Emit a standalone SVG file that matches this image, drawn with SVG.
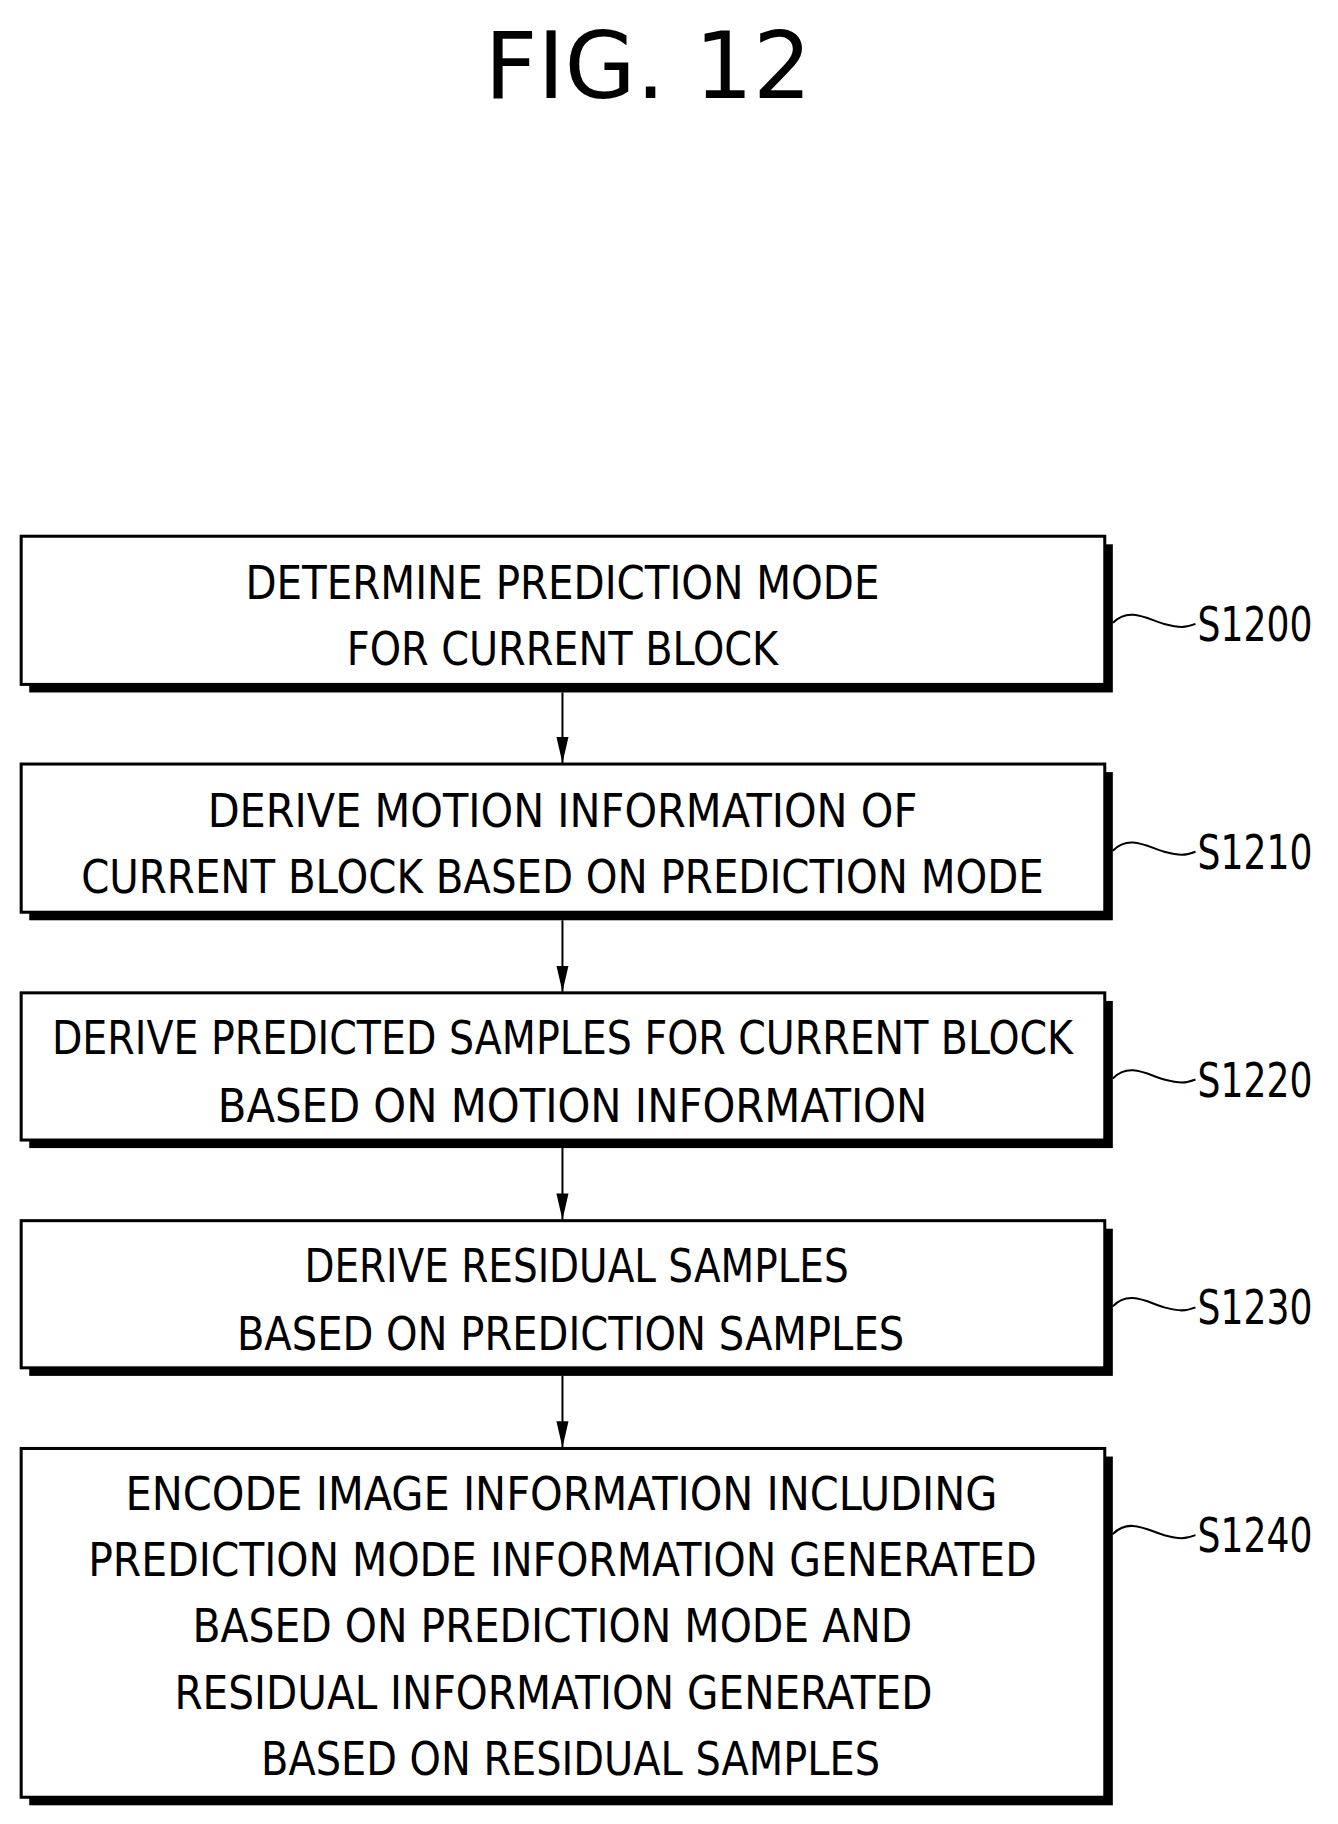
<svg xmlns="http://www.w3.org/2000/svg" width="1338" height="1824" viewBox="0 0 1338 1824">
<style>
.box{fill:#fff;stroke:#000;stroke-width:3}
.sh{fill:#000}
.t{font-family:"DejaVu Sans Condensed","Liberation Sans",sans-serif;font-size:46px;text-anchor:middle}
.l{font-family:"DejaVu Sans Condensed","Liberation Sans",sans-serif;font-size:48px}
.w{fill:none;stroke:#000;stroke-width:2}
</style>
<defs><marker id="a" markerWidth="26" markerHeight="12" refX="26" refY="6" orient="auto" markerUnits="userSpaceOnUse" viewBox="0 0 26 12"><path d="M0 0L26 6L0 12Z"/></marker></defs>
<rect width="1338" height="1824" fill="#fff"/>
<text x="648" y="98" font-family="DejaVu Sans,sans-serif" font-size="92" text-anchor="middle">FIG. 12</text>
<g transform="translate(0,3) scale(1.008)">
<g id="connectors" stroke="#000" stroke-width="2">
<line x1="558" y1="684" x2="558" y2="754" marker-end="url(#a)"/>
<line x1="558" y1="910" x2="558" y2="981" marker-end="url(#a)"/>
<line x1="558" y1="1136" x2="558" y2="1207" marker-end="url(#a)"/>
<line x1="558" y1="1362" x2="558" y2="1433" marker-end="url(#a)"/>
</g>
<g id="S1200"><rect class="sh" x="29" y="537" width="1075" height="147"/><rect class="box" x="21" y="529" width="1075" height="147"/>
<text class="t" x="558" y="591" textLength="629" lengthAdjust="spacingAndGlyphs">DETERMINE PREDICTION MODE</text>
<text class="t" x="558" y="657" textLength="428" lengthAdjust="spacingAndGlyphs">FOR CURRENT BLOCK</text>
<path class="w" d="M1104 615 C1120 598 1140 612 1155 616 S1176 620 1186 616"/><text class="l" x="1188" y="633" textLength="114" lengthAdjust="spacingAndGlyphs">S1200</text></g>
<g id="S1210"><rect class="sh" x="29" y="763" width="1075" height="147"/><rect class="box" x="21" y="755" width="1075" height="147"/>
<text class="t" x="558" y="817" textLength="704" lengthAdjust="spacingAndGlyphs">DERIVE MOTION INFORMATION OF</text>
<text class="t" x="558" y="883" textLength="955" lengthAdjust="spacingAndGlyphs">CURRENT BLOCK BASED ON PREDICTION MODE</text>
<path class="w" d="M1104 841 C1120 824 1140 838 1155 842 S1176 846 1186 842"/><text class="l" x="1188" y="859" textLength="114" lengthAdjust="spacingAndGlyphs">S1210</text></g>
<g id="S1220"><rect class="sh" x="29" y="990" width="1075" height="146"/><rect class="box" x="21" y="982" width="1075" height="146"/>
<text class="t" x="558" y="1043" textLength="1013" lengthAdjust="spacingAndGlyphs">DERIVE PREDICTED SAMPLES FOR CURRENT BLOCK</text>
<text class="t" x="568" y="1110" textLength="704" lengthAdjust="spacingAndGlyphs">BASED ON MOTION INFORMATION</text>
<path class="w" d="M1104 1067 C1120 1050 1140 1064 1155 1068 S1176 1072 1186 1068"/><text class="l" x="1188" y="1085" textLength="114" lengthAdjust="spacingAndGlyphs">S1220</text></g>
<g id="S1230"><rect class="sh" x="29" y="1216" width="1075" height="146"/><rect class="box" x="21" y="1208" width="1075" height="146"/>
<text class="t" x="572" y="1269" textLength="540" lengthAdjust="spacingAndGlyphs">DERIVE RESIDUAL SAMPLES</text>
<text class="t" x="566" y="1336" textLength="662" lengthAdjust="spacingAndGlyphs">BASED ON PREDICTION SAMPLES</text>
<path class="w" d="M1104 1293 C1120 1276 1140 1290 1155 1294 S1176 1298 1186 1294"/><text class="l" x="1188" y="1311" textLength="114" lengthAdjust="spacingAndGlyphs">S1230</text></g>
<g id="S1240"><rect class="sh" x="29" y="1442" width="1075" height="346"/><rect class="box" x="21" y="1434" width="1075" height="346"/>
<text class="t" x="557" y="1495" textLength="865" lengthAdjust="spacingAndGlyphs">ENCODE IMAGE INFORMATION INCLUDING</text>
<text class="t" x="558" y="1561" textLength="941" lengthAdjust="spacingAndGlyphs">PREDICTION MODE INFORMATION GENERATED</text>
<text class="t" x="548" y="1626" textLength="714" lengthAdjust="spacingAndGlyphs">BASED ON PREDICTION MODE AND</text>
<text class="t" x="549" y="1692" textLength="752" lengthAdjust="spacingAndGlyphs">RESIDUAL INFORMATION GENERATED</text>
<text class="t" x="566" y="1758" textLength="614" lengthAdjust="spacingAndGlyphs">BASED ON RESIDUAL SAMPLES</text>
<path class="w" d="M1104 1519 C1120 1502 1140 1516 1155 1520 S1176 1524 1186 1520"/><text class="l" x="1188" y="1537" textLength="114" lengthAdjust="spacingAndGlyphs">S1240</text></g>
</g>
</svg>
